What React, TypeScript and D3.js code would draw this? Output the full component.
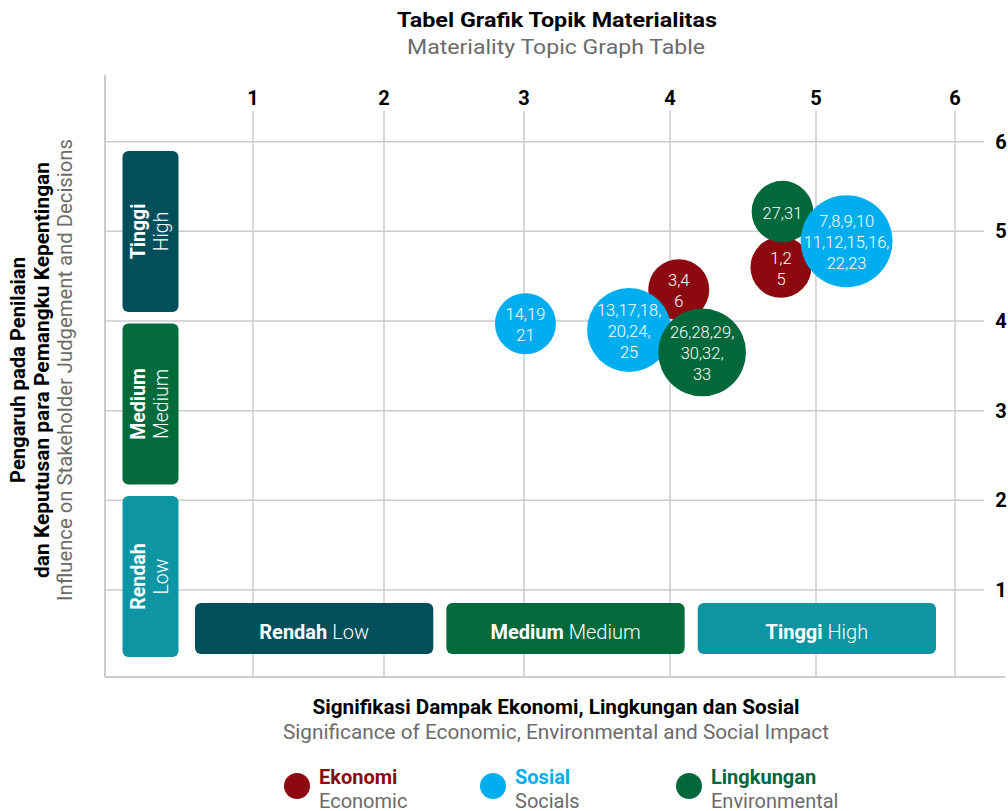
import React from "react";
import * as d3 from "d3";

// ---------- data ----------
const xTicks = [1, 2, 3, 4, 5, 6];
const yTicks = [1, 2, 3, 4, 5, 6];

const seriesNames = ["Ekonomi", "Sosial", "Lingkungan"];
const seriesNamesEn = ["Economic", "Socials", "Environmental"];

const bubbleSeries = ["Ekonomi", "Sosial", "Lingkungan", "Ekonomi", "Lingkungan", "Sosial", "Sosial"];
const bubbleImpact = [4.06, 3.72, 4.22, 4.76, 4.77, 5.22, 3.01];
const bubbleInfluence = [4.35, 3.9, 3.65, 4.6, 5.22, 4.89, 3.97];
const bubbleWeight = [3.0, 5.7, 6.2, 3.0, 3.05, 6.8, 3.0];
const bubbleTopics = [
  ["3,4", "6"],
  ["13,17,18,", "20,24,", "25"],
  ["26,28,29,", "30,32,", "33"],
  ["1,2", "5"],
  ["27,31"],
  ["7,8,9,10", "11,12,15,16,", "22,23"],
  ["14,19", "21"],
];

const levelsId = ["Rendah", "Medium", "Tinggi"];
const levelsEn = ["Low", "Medium", "High"];

// ---------- styles ----------
const FONT = "Roboto, 'Noto Sans', sans-serif";
const seriesColor: Record<string, string> = {
  Ekonomi: "#8C0A0F",
  Sosial: "#00AEEF",
  Lingkungan: "#00683A",
};
const levelColor: Record<string, string> = {
  Rendah: "#014F5B",
  Medium: "#036A3C",
  Tinggi: "#0D95A4",
};
const levelColorY: Record<string, string> = {
  Rendah: "#0D95A4",
  Medium: "#036A3C",
  Tinggi: "#014F5B",
};
const GRID = "#CBCBCB";
const SUB = "#6B6B6B";

export default function App() {
  const x = d3.scaleLinear().domain(xTicks).range([253, 384, 524, 670, 816, 955]);
  const y = d3.scaleLinear().domain([1, 6]).range([590, 141.7]);
  const r = d3.scaleSqrt().domain([0, 10]).range([0, 55.7]);

  const bandX = d3.scaleBand<string>().domain(levelsId).range([195, 936]).paddingInner(0.052);
  const bandY = d3
    .scaleBand<string>()
    .domain([...levelsId].reverse())
    .range([151, 657])
    .paddingInner(0.067);

  const legendX = d3.scalePoint<string>().domain(seriesNames).range([297, 689]);

  const bubbles = bubbleImpact.map((v, i) => ({
    cx: x(v),
    cy: y(bubbleInfluence[i]),
    r: r(bubbleWeight[i]),
    color: seriesColor[bubbleSeries[i]],
    lines: bubbleTopics[i],
  }));

  const fit = { lengthAdjust: "spacingAndGlyphs" as const };

  return (
    <svg
      width={1008}
      height={811}
      style={{ position: "absolute", left: 0, top: 0, fontFamily: FONT }}
    >
      <rect width={1008} height={811} fill="#fff" />

      {/* title */}
      <text x={557} y={27} textAnchor="middle" fontSize={20.5} fontWeight={700} fill="#000" textLength={320} {...fit}>
        Tabel Grafik Topik Materialitas
      </text>
      <text x={556} y={54} textAnchor="middle" fontSize={20.5} fill={SUB} textLength={298} {...fit}>
        Materiality Topic Graph Table
      </text>

      {/* grid */}
      {xTicks.map((t) => (
        <line key={"vx" + t} x1={x(t)} x2={x(t)} y1={111} y2={676} stroke={GRID} strokeWidth={1.5} />
      ))}
      {yTicks.map((t) => (
        <line key={"hy" + t} x1={105} x2={984} y1={y(t)} y2={y(t)} stroke={GRID} strokeWidth={1.5} />
      ))}
      <line x1={105} x2={105} y1={75} y2={677} stroke={GRID} strokeWidth={2} />
      <line x1={105} x2={1005} y1={677} y2={677} stroke={GRID} strokeWidth={2} />

      {/* tick labels */}
      {xTicks.map((t) => (
        <text key={"tx" + t} x={x(t)} y={104.5} textAnchor="middle" fontSize={20} fontWeight={700} fill="#000">
          {t}
        </text>
      ))}
      {yTicks.map((t) => (
        <text key={"ty" + t} x={1001} y={y(t) + 7} textAnchor="middle" fontSize={20} fontWeight={700} fill="#000">
          {t}
        </text>
      ))}

      {/* left level boxes */}
      {levelsId.map((lv, i) => {
        const y0 = bandY(lv)!;
        const h = bandY.bandwidth();
        const cx = 150.5;
        const cy = y0 + h / 2;
        return (
          <g key={"ly" + lv}>
            <rect x={122.5} y={y0} width={56} height={h} rx={6} fill={levelColorY[lv]} />
            <g transform={`translate(${cx},${cy}) rotate(-90)`}>
              <text x={0} y={-5.5} textAnchor="middle" fontSize={19.5} fontWeight={700} fill="#fff">
                {lv}
              </text>
              <text x={0} y={17} textAnchor="middle" fontSize={19.5} fontWeight={300} fill="#fff">
                {levelsEn[i]}
              </text>
            </g>
          </g>
        );
      })}

      {/* bottom level boxes */}
      {levelsId.map((lv, i) => {
        const x0 = bandX(lv)!;
        const w = bandX.bandwidth();
        return (
          <g key={"lx" + lv}>
            <rect x={x0} y={603} width={w} height={51} rx={6} fill={levelColor[lv]} />
            <text x={x0 + w / 2} y={638.5} textAnchor="middle" fontSize={20} fill="#fff">
              <tspan fontWeight={700}>{lv}</tspan>
              <tspan fontWeight={300}> {levelsEn[i]}</tspan>
            </text>
          </g>
        );
      })}

      {/* bubbles */}
      {bubbles.map((b, i) => (
        <g key={"b" + i}>
          <circle cx={b.cx} cy={b.cy} r={b.r} fill={b.color} />
          {b.lines.map((ln, j) => (
            <text
              key={j}
              x={b.cx}
              y={b.cy + (j - (b.lines.length - 1) / 2) * 21 + 7}
              textAnchor="middle"
              fontSize={16.5}
              fontWeight={300}
              fill="#fff"
            >
              {ln}
            </text>
          ))}
        </g>
      ))}

      {/* y axis title */}
      <g transform="translate(0,370) rotate(-90)">
        <text x={0} y={25} textAnchor="middle" fontSize={19.5} fontWeight={700} fill="#000" textLength={226} {...fit}>
          Pengaruh pada Penilaian
        </text>
        <text x={0} y={48.5} textAnchor="middle" fontSize={19.5} fontWeight={700} fill="#000" textLength={416} {...fit}>
          dan Keputusan para Pemangku Kepentingan
        </text>
        <text x={0} y={72} textAnchor="middle" fontSize={19.5} fill={SUB} textLength={462} {...fit}>
          Influence on Stakeholder Judgement and Decisions
        </text>
      </g>

      {/* x axis title */}
      <text x={556} y={714} textAnchor="middle" fontSize={19.5} fontWeight={700} fill="#000" textLength={487} {...fit}>
        Signifikasi Dampak Ekonomi, Lingkungan dan Sosial
      </text>
      <text x={556} y={739} textAnchor="middle" fontSize={19.5} fill={SUB} textLength={546} {...fit}>
        Significance of Economic, Environmental and Social Impact
      </text>

      {/* legend */}
      {seriesNames.map((s, i) => {
        const cx = legendX(s)!;
        return (
          <g key={"lg" + s}>
            <circle cx={cx} cy={786} r={13} fill={seriesColor[s]} />
            <text x={cx + 22} y={784} fontSize={20} fontWeight={700} fill={seriesColor[s]}>
              {s}
            </text>
            <text x={cx + 22} y={807.5} fontSize={20} fill={SUB}>
              {seriesNamesEn[i]}
            </text>
          </g>
        );
      })}
    </svg>
  );
}
